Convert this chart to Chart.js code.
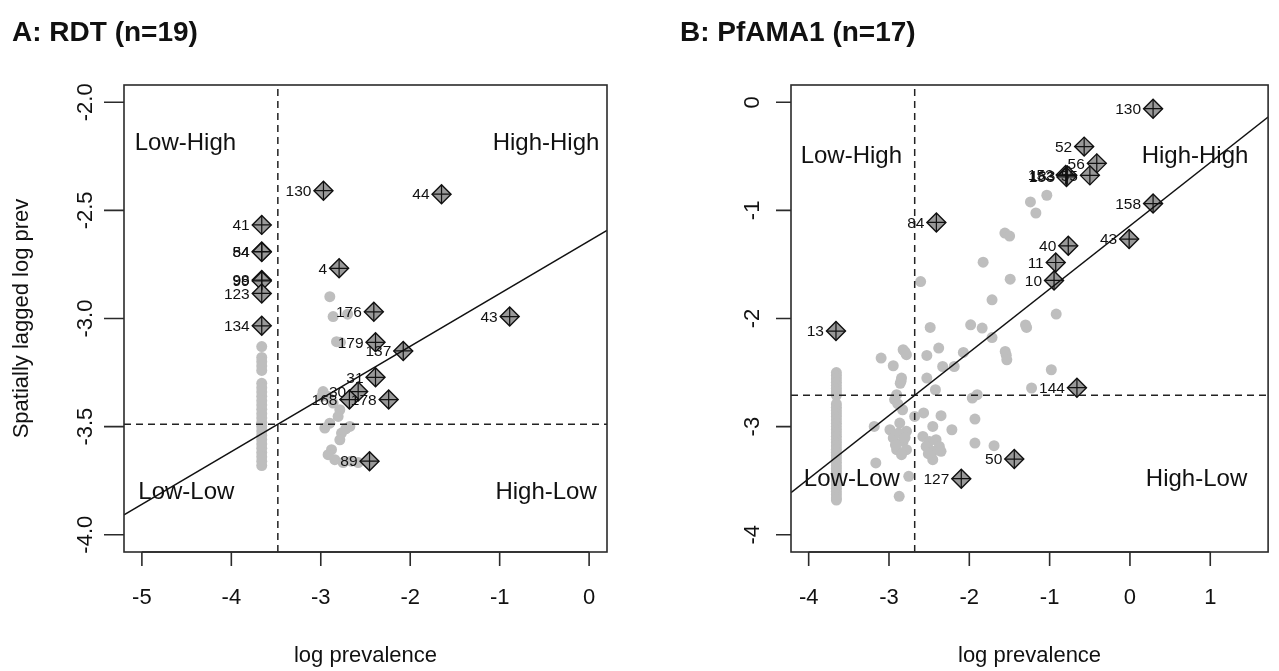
<!DOCTYPE html>
<html>
<head>
<meta charset="utf-8">
<script src="https://cdn.jsdelivr.net/npm/chart.js@4.4.0/dist/chart.umd.min.js"></script>
<style>
  body { margin: 0; background: #fff; width: 1279px; height: 671px; overflow: hidden; position: relative; }
  canvas { position: absolute; top: 0; }
  #rdtChart { left: 0; }
  #amaChart { left: 640px; }
</style>
</head>
<body>
<canvas id="rdtChart" width="640" height="671"></canvas>
<canvas id="amaChart" width="639" height="671"></canvas>
<script>
// ---------- Panel A: RDT ----------
const rdtGreyX = [
  -3.66, -3.66, -3.66, -3.66, -3.66, -3.66, -3.66, -3.66, -3.66, -3.66, -3.66, -3.66, -3.66,
  -3.66, -3.66, -3.66, -3.66, -3.66, -3.66, -3.66, -3.66, -3.66, -3.66, -3.66, -3.66,
  -2.899, -2.862, -2.70, -2.824, -2.78, -2.974, -2.99, -2.918, -2.862, -2.787, -2.806, -2.899,
  -2.955, -2.768, -2.675, -2.72, -2.787, -2.880, -2.918, -2.843, -2.750, -2.582, -2.66
];
const rdtGreyY = [
  -3.13, -3.18, -3.20, -3.22, -3.24, -3.30, -3.32, -3.34, -3.36, -3.38, -3.40, -3.42, -3.44,
  -3.46, -3.48, -3.50, -3.52, -3.54, -3.56, -3.58, -3.60, -3.62, -3.64, -3.66, -3.68,
  -2.899, -2.991, -2.98, -3.107, -3.11, -3.338, -3.36, -3.361, -3.391, -3.422, -3.453, -3.484,
  -3.507, -3.530, -3.499, -3.51, -3.561, -3.607, -3.630, -3.653, -3.666, -3.666, -3.66
];
const rdtInflX = [-2.97, -1.65, -3.66, -3.66, -3.66, -3.66, -3.66, -3.66, -3.66, -2.795, -2.407,
  -0.888, -2.388, -2.078, -2.388, -2.582, -2.68, -2.241, -2.455];
const rdtInflY = [-2.409, -2.425, -2.567, -2.690, -2.692, -2.822, -2.826, -2.884, -3.034, -2.768,
  -2.969, -2.991, -3.11, -3.15, -3.272, -3.338, -3.375, -3.375, -3.66];
const rdtInflLabels = ['130', '44', '41', '54', '84', '98', '99', '123', '134', '4', '176', '43',
  '179', '137', '31', '30', '168', '178', '89'];
const rdtMeanX = -3.48;
const rdtMeanY = -3.489;
const rdtSlope = 0.2436;
const rdtIntercept = -2.641;
const rdtXTicks = [-5, -4, -3, -2, -1, 0];
const rdtYTicks = [-2.0, -2.5, -3.0, -3.5, -4.0];
const rdtYTickLabels = ['-2.0', '-2.5', '-3.0', '-3.5', '-4.0'];

// ---------- Panel B: PfAMA1 ----------
const amaGreyX = [
  -3.655, -3.655, -3.655, -3.655, -3.655, -3.655, -3.655, -3.655,
  -3.655, -3.655, -3.655, -3.655, -3.655, -3.655, -3.655, -3.655, -3.655, -3.655, -3.655, -3.655,
  -3.655, -3.655, -3.655, -3.655, -3.655, -3.655, -3.655, -3.655, -3.655, -3.655, -3.655, -3.655,
  -3.655, -3.655, -3.655, -3.655, -3.655, -3.655, -3.655,
  -1.035, -1.239, -1.171, -1.557, -1.498, -1.828, -2.606, -1.491, -1.717, -0.918, -2.487, -1.983,
  -1.840, -1.287, -1.30, -1.717, -2.824, -2.783, -2.80, -2.381, -2.529, -2.074, -1.553, -1.54,
  -1.533, -3.098, -2.947, -2.332, -2.188, -0.979, -2.844, -2.85, -2.86, -2.529, -2.422, -1.225,
  -1.902, -1.963, -2.905, -2.93, -2.89, -2.831, -2.569, -2.352, -2.680, -1.930, -3.184, -2.988,
  -2.866, -2.782, -2.947, -2.824, -2.905, -2.782, -2.844, -2.88, -2.92, -2.80, -2.455, -2.217,
  -2.578, -2.496, -2.414, -2.373, -2.537, -2.455, -2.352, -2.455, -2.51, -1.930, -1.692, -3.164,
  -2.754, -2.873
];
const amaGreyY = [
  -2.50, -2.53, -2.56, -2.59, -2.62, -2.65, -2.68, -2.71,
  -2.79, -2.82, -2.85, -2.88, -2.91, -2.94, -2.97, -3.00, -3.03, -3.06, -3.09, -3.12,
  -3.15, -3.18, -3.21, -3.24, -3.27, -3.30, -3.33, -3.36, -3.39, -3.42, -3.45, -3.48,
  -3.51, -3.54, -3.57, -3.60, -3.63, -3.66, -3.68,
  -0.860, -0.922, -1.024, -1.210, -1.237, -1.479, -1.658, -1.636, -1.827, -1.959, -2.083, -2.058,
  -2.089, -2.083, -2.06, -2.176, -2.289, -2.335, -2.31, -2.274, -2.342, -2.314, -2.305, -2.34,
  -2.382, -2.366, -2.437, -2.444, -2.444, -2.474, -2.551, -2.58, -2.60, -2.551, -2.659, -2.643,
  -2.705, -2.736, -2.705, -2.75, -2.79, -2.844, -2.874, -2.899, -2.906, -2.930, -2.998, -3.029,
  -2.967, -3.044, -3.105, -3.137, -3.214, -3.214, -3.260, -3.06, -3.17, -3.10, -2.998, -3.029,
  -3.091, -3.137, -3.121, -3.183, -3.183, -3.229, -3.229, -3.306, -3.25, -3.152, -3.177, -3.336,
  -3.460, -3.645
];
const amaInflX = [0.288, -0.570, -0.413, -0.80, -0.78, -0.79, -0.499, 0.288, -2.41, -0.768, -0.01,
  -0.924, -0.945, -3.66, -0.66, -1.44, -2.10];
const amaInflY = [-0.059, -0.410, -0.565, -0.672, -0.676, -0.690, -0.676, -0.937, -1.111, -1.328,
  -1.265, -1.482, -1.648, -2.116, -2.64, -3.30, -3.482];
const amaInflLabels = ['130', '52', '56', '152', '183', '153', '55', '158', '84', '40', '43', '11',
  '10', '13', '144', '50', '127'];
const amaMeanX = -2.68;
const amaMeanY = -2.71;
const amaSlope = 0.585;
const amaIntercept = -1.142;
const amaXTicks = [-4, -3, -2, -1, 0, 1];
const amaYTicks = [0, -1, -2, -3, -4];
const amaYTickLabels = ['0', '-1', '-2', '-3', '-4'];

const FONT = '"Liberation Sans", Arial, Helvetica, sans-serif';

function pairs(xs, ys) {
  return xs.map((x, i) => ({ x: x, y: ys[i] }));
}

// draws the R-like frame, axes, texts and point labels on top of the chart
function rPlot(p) {
  return {
    id: 'rPlot',
    afterDraw(chart) {
      const ctx = chart.ctx;
      const xs = chart.scales.x, ys = chart.scales.y;
      const a = chart.chartArea;
      ctx.save();

      // labels of influential points (pos = 2, left of point)
      ctx.fillStyle = '#111';
      ctx.font = '15.5px ' + FONT;
      ctx.textAlign = 'right';
      ctx.textBaseline = 'middle';
      chart.getDatasetMeta(0).data.forEach((pt, i) => {
        ctx.fillText(p.labels[i], pt.x - 12, pt.y + 1);
      });

      // quadrant names
      ctx.font = '24px ' + FONT;
      p.quadrants.forEach(q => {
        ctx.textAlign = q.align;
        ctx.fillText(q.text, xs.getPixelForValue(q.x), ys.getPixelForValue(q.y));
      });

      // box
      ctx.strokeStyle = '#2b2b2b';
      ctx.lineWidth = 1.6;
      ctx.strokeRect(a.left, a.top, a.right - a.left, a.bottom - a.top);

      // x axis
      ctx.beginPath();
      const x0 = xs.getPixelForValue(p.xTicks[0]);
      const x1 = xs.getPixelForValue(p.xTicks[p.xTicks.length - 1]);
      ctx.moveTo(x0, a.bottom); ctx.lineTo(x1, a.bottom);
      p.xTicks.forEach(v => {
        const px = xs.getPixelForValue(v);
        ctx.moveTo(px, a.bottom); ctx.lineTo(px, a.bottom + 14);
      });
      // y axis
      p.yTicks.forEach(v => {
        const py = ys.getPixelForValue(v);
        ctx.moveTo(a.left, py); ctx.lineTo(a.left - p.yTickLen, py);
      });
      ctx.stroke();

      ctx.font = '22px ' + FONT;
      ctx.textAlign = 'center';
      ctx.textBaseline = 'middle';
      p.xTicks.forEach(v => {
        ctx.fillText(String(v), xs.getPixelForValue(v), 598);
      });
      p.yTicks.forEach((v, i) => {
        ctx.save();
        ctx.translate(p.yLabelX, ys.getPixelForValue(v));
        ctx.rotate(-Math.PI / 2);
        ctx.fillText(p.yTickLabels[i], 0, 0);
        ctx.restore();
      });

      // axis titles
      ctx.fillText('log prevalence', (a.left + a.right) / 2, 656);
      if (p.yTitle) {
        ctx.save();
        ctx.translate(22, (a.top + a.bottom) / 2);
        ctx.rotate(-Math.PI / 2);
        ctx.fillText(p.yTitle, 0, 0);
        ctx.restore();
      }

      // panel title
      ctx.font = 'bold 28px ' + FONT;
      ctx.textAlign = 'left';
      ctx.fillText(p.title, p.titleX, 33);
      ctx.restore();
    }
  };
}

function buildPanel(canvasId, p) {
  const xr = p.xRange, yr = p.yRange;
  return new Chart(document.getElementById(canvasId), {
    type: 'scatter',
    data: {
      datasets: [
        { // plus signs inside diamonds
          data: pairs(p.inflX, p.inflY),
          pointStyle: 'cross', pointRadius: 9.5, borderColor: '#111', borderWidth: 1.2,
          backgroundColor: 'rgba(0,0,0,0)'
        },
        { // regression line
          data: [{ x: xr[0], y: p.intercept + p.slope * xr[0] }, { x: xr[1], y: p.intercept + p.slope * xr[1] }],
          showLine: true, pointRadius: 0, borderColor: '#111', borderWidth: 1.5
        },
        { // mean of x
          data: [{ x: p.meanX, y: yr[0] }, { x: p.meanX, y: yr[1] }],
          showLine: true, pointRadius: 0, borderColor: '#222', borderWidth: 1.5, borderDash: [7, 5]
        },
        { // mean of lagged values
          data: [{ x: xr[0], y: p.meanY }, { x: xr[1], y: p.meanY }],
          showLine: true, pointRadius: 0, borderColor: '#222', borderWidth: 1.5, borderDash: [7, 5]
        },
        { // diamonds
          data: pairs(p.inflX, p.inflY),
          pointStyle: 'rectRot', pointRadius: 9.5, backgroundColor: '#999999',
          borderColor: '#111', borderWidth: 1.4
        },
        { // other points
          data: pairs(p.greyX, p.greyY),
          pointRadius: 5.5, backgroundColor: '#bebebe', borderWidth: 0
        }
      ]
    },
    options: {
      responsive: false,
      animation: false,
      events: [],
      layout: { padding: p.padding },
      scales: {
        x: { type: 'linear', min: xr[0], max: xr[1], display: false },
        y: { type: 'linear', min: yr[0], max: yr[1], display: false }
      },
      plugins: { legend: { display: false }, tooltip: { enabled: false } }
    },
    plugins: [rPlot(p)]
  });
}

buildPanel('rdtChart', {
  greyX: rdtGreyX, greyY: rdtGreyY, inflX: rdtInflX, inflY: rdtInflY, labels: rdtInflLabels,
  meanX: rdtMeanX, meanY: rdtMeanY, slope: rdtSlope, intercept: rdtIntercept,
  xTicks: rdtXTicks, yTicks: rdtYTicks, yTickLabels: rdtYTickLabels,
  xRange: [-5.2, 0.2], yRange: [-4.08, -1.92],
  padding: { left: 124, right: 33, top: 85, bottom: 119 },
  yTickLen: 20, yLabelX: 86,
  title: 'A: RDT (n=19)', titleX: 12, yTitle: 'Spatially lagged log prev',
  quadrants: [
    { text: 'Low-High', x: -5.08, y: -2.19, align: 'left' },
    { text: 'High-High', x: 0.115, y: -2.19, align: 'right' },
    { text: 'Low-Low', x: -5.04, y: -3.805, align: 'left' },
    { text: 'High-Low', x: 0.086, y: -3.805, align: 'right' }
  ]
});

buildPanel('amaChart', {
  greyX: amaGreyX, greyY: amaGreyY, inflX: amaInflX, inflY: amaInflY, labels: amaInflLabels,
  meanX: amaMeanX, meanY: amaMeanY, slope: amaSlope, intercept: amaIntercept,
  xTicks: amaXTicks, yTicks: amaYTicks, yTickLabels: amaYTickLabels,
  xRange: [-4.22, 1.72], yRange: [-4.16, 0.16],
  padding: { left: 151, right: 7, top: 85, bottom: 119 },
  yTickLen: 15, yLabelX: 113,
  title: 'B: PfAMA1 (n=17)', titleX: 40, yTitle: null,
  quadrants: [
    { text: 'Low-High', x: -4.10, y: -0.50, align: 'left' },
    { text: 'High-High', x: 1.474, y: -0.50, align: 'right' },
    { text: 'Low-Low', x: -4.06, y: -3.49, align: 'left' },
    { text: 'High-Low', x: 1.46, y: -3.49, align: 'right' }
  ]
});
</script>
</body>
</html>
